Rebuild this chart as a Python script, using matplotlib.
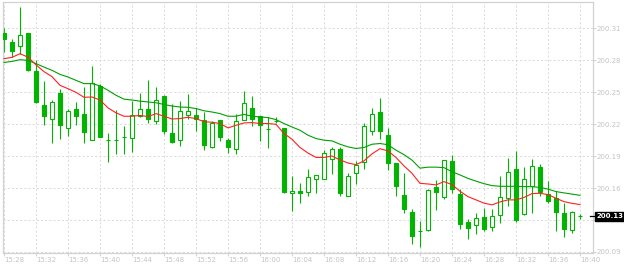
import matplotlib
matplotlib.use("Agg")
import matplotlib.pyplot as plt
from matplotlib.transforms import blended_transform_factory

# one candle per minute, 15:28 .. 16:40
opens = [200.3096, 200.3007, 200.2975, 200.3096, 200.2722, 200.2394, 200.2256, 200.2512, 200.2161, 200.2355,
         200.2305, 200.2049, 200.2581, 200.2049, 200.2049, 200.2079, 200.2069, 200.2279, 200.2355, 200.2233,
         200.2476, 200.2109, 200.2040, 200.2296, 200.2296, 200.2239, 200.1971, 200.2239, 200.2049, 200.1957,
         200.2246, 200.2364, 200.2279, 200.2158, 200.2230, 200.2161, 200.1518, 200.1540, 200.1534, 200.1656,
         200.1662, 200.1858, 200.1954, 200.1494, 200.1715, 200.1823, 200.2134, 200.2318, 200.2099, 200.1819,
         200.1501, 200.1334, 200.1147, 200.1154, 200.1580, 200.1484, 200.1836, 200.1511, 200.1235, 200.1203,
         200.1285, 200.1183, 200.1301, 200.1469, 200.1754, 200.1314, 200.1590, 200.1774, 200.1508, 200.1475,
         200.1324, 200.1157, 200.1291]
highs = [200.3145, 200.3037, 200.3355, 200.3098, 200.2830, 200.2623, 200.2436, 200.2551, 200.2355, 200.2424,
         200.2571, 200.2778, 200.2594, 200.2111, 200.2338, 200.2183, 200.2426, 200.2512, 200.2633, 200.2564,
         200.2486, 200.2397, 200.2426, 200.2498, 200.2360, 200.2318, 200.2236, 200.2242, 200.2069, 200.2305,
         200.2525, 200.2476, 200.2282, 200.2272, 200.2269, 200.2164, 200.1691, 200.1619, 200.1760, 200.1695,
         200.1944, 200.1974, 200.1974, 200.1718, 200.1833, 200.2213, 200.2358, 200.2459, 200.2161, 200.1822,
         200.1715, 200.1363, 200.1242, 200.1560, 200.1649, 200.1852, 200.1895, 200.1560, 200.1262, 200.1321,
         200.1370, 200.1363, 200.1688, 200.1868, 200.1934, 200.1774, 200.1855, 200.1806, 200.1636, 200.1543,
         200.1425, 200.1341, 200.1317]
lows = [200.2912, 200.2862, 200.2896, 200.2722, 200.2410, 200.2190, 200.2016, 200.2055, 200.2085, 200.2193,
        200.2016, 200.2043, 200.2072, 200.1829, 200.1905, 200.1905, 200.1927, 200.2272, 200.2213, 200.2200,
        200.2102, 200.2016, 200.1986, 200.2252, 200.2131, 200.1944, 200.1968, 200.2036, 200.1917, 200.1905,
        200.2239, 200.2183, 200.2036, 200.1967, 200.2210, 200.1521, 200.1346, 200.1422, 200.1488, 200.1521,
        200.1659, 200.1711, 200.1488, 200.1491, 200.1612, 200.1757, 200.2092, 200.2055, 200.1747, 200.1494,
        200.1327, 200.1022, 200.0986, 200.1151, 200.1353, 200.1462, 200.1518, 200.1166, 200.1065, 200.1114,
        200.1150, 200.1150, 200.1223, 200.1393, 200.1238, 200.1301, 200.1321, 200.1491, 200.1419, 200.1150,
        200.1091, 200.1124, 200.1268]
closes = [200.3040, 200.2922, 200.3083, 200.2732, 200.2420, 200.2282, 200.2424, 200.2193, 200.2335, 200.2282,
          200.2124, 200.2610, 200.2075, 200.2049, 200.2049, 200.2079, 200.2289, 200.2351, 200.2256, 200.2443,
          200.2134, 200.2026, 200.2328, 200.2328, 200.2256, 200.1996, 200.2213, 200.2075, 200.1977, 200.2236,
          200.2414, 200.2252, 200.2197, 200.2158, 200.2230, 200.1534, 200.1538, 200.1524, 200.1678, 200.1695,
          200.1915, 200.1954, 200.1521, 200.1685, 200.1796, 200.2180, 200.2298, 200.2134, 200.1813, 200.1593,
          200.1366, 200.1100, 200.1147, 200.1547, 200.1534, 200.1849, 200.1563, 200.1213, 200.1179, 200.1272,
          200.1169, 200.1291, 200.1478, 200.1734, 200.1258, 200.1656, 200.1784, 200.1528, 200.1445, 200.1337,
          200.1164, 200.1338, 200.1291]

# moving averages as drawn (red = fast, green = slow)
ma_fast = [200.2847, 200.2860, 200.2896, 200.2862, 200.2786, 200.2719, 200.2670, 200.2584, 200.2551, 200.2515,
           200.2466, 200.2469, 200.2439, 200.2362, 200.2313, 200.2279, 200.2279, 200.2287, 200.2276, 200.2305,
           200.2279, 200.2252, 200.2256, 200.2269, 200.2256, 200.2225, 200.2220, 200.2207, 200.2164, 200.2190,
           200.2213, 200.2217, 200.2207, 200.2207, 200.2200, 200.2109, 200.2052, 200.1971, 200.1916, 200.1873,
           200.1873, 200.1887, 200.1848, 200.1818, 200.1801, 200.1839, 200.1908, 200.1959, 200.1937, 200.1872,
           200.1789, 200.1716, 200.1617, 200.1611, 200.1602, 200.1634, 200.1605, 200.1539, 200.1486, 200.1454,
           200.1422, 200.1405, 200.1434, 200.1454, 200.1454, 200.1478, 200.1516, 200.1519, 200.1506, 200.1470,
           200.1437, 200.1420, 200.1408]
ma_slow = [200.2810, 200.2820, 200.2837, 200.2830, 200.2798, 200.2764, 200.2732, 200.2692, 200.2666, 200.2633,
           200.2601, 200.2601, 200.2579, 200.2535, 200.2486, 200.2448, 200.2439, 200.2428, 200.2420, 200.2412,
           200.2395, 200.2380, 200.2370, 200.2367, 200.2355, 200.2333, 200.2321, 200.2305, 200.2279, 200.2279,
           200.2298, 200.2279, 200.2272, 200.2266, 200.2246, 200.2207, 200.2173, 200.2141, 200.2092, 200.2059,
           200.2043, 200.2036, 200.2003, 200.1977, 200.1961, 200.1971, 200.2003, 200.2010, 200.1998, 200.1944,
           200.1900, 200.1846, 200.1767, 200.1777, 200.1777, 200.1772, 200.1732, 200.1700, 200.1666, 200.1639,
           200.1614, 200.1595, 200.1588, 200.1588, 200.1588, 200.1585, 200.1585, 200.1577, 200.1560, 200.1536,
           200.1523, 200.1511, 200.1499]

x_labels = ["15:28", "15:32", "15:36", "15:40", "15:44", "15:48", "15:52", "15:56", "16:00", "16:04",
            "16:08", "16:12", "16:16", "16:20", "16:24", "16:28", "16:32", "16:36", "16:40"]
y_ticks = [200.094, 200.1255, 200.157, 200.1885, 200.220, 200.2515, 200.283, 200.3145]
y_labels = ["200.09", "", "200.16", "200.19", "200.22", "200.25", "200.28", "200.31"]

CANDLE = "#00b400"
GRID = "#dcdcdc"
FRAME = "#d2d2d2"
LABEL = "#c4c4c4"
FS = 5.0

W, H = 624, 266
fig = plt.figure(figsize=(W / 100, H / 100), dpi=100)
ax = fig.add_axes([2.5 / W, (H - 252.5) / H, 590 / W, 251 / H])

n = len(opens)
xs = list(range(n))

# wicks
ax.vlines(xs, lows, highs, color=CANDLE, linewidth=0.8, zorder=2)

# bodies: filled = down, hollow = up
bottoms = [min(o, c) for o, c in zip(opens, closes)]
heights = [abs(c - o) for o, c in zip(opens, closes)]
faces = [CANDLE if c < o else "white" for o, c in zip(opens, closes)]
ax.bar(xs, heights, bottom=bottoms, width=0.48, color=faces,
       edgecolor=CANDLE, linewidth=0.8, zorder=3)

# moving averages
ax.plot(xs, ma_slow, color="#00a000", linewidth=0.8, zorder=4)
ax.plot(xs, ma_fast, color="#ff2020", linewidth=0.8, zorder=4)

ax.set_xlim(-0.1875, 73.5625)
ax.set_ylim(200.0935, 200.3411)

ax.set_xticks(xs[::4])
ax.set_xticklabels(x_labels)
for lbl in ax.get_xticklabels():
    lbl.set_horizontalalignment("left")
ax.set_yticks(y_ticks)
ax.set_yticklabels(y_labels)
ax.yaxis.tick_right()

ax.tick_params(axis="both", colors=FRAME, labelcolor=LABEL, labelsize=FS,
               length=2.4, width=0.75, direction="out")
ax.tick_params(axis="x", pad=1.2)
ax.tick_params(axis="y", pad=0.6)

ax.grid(True, color=GRID, linestyle=(0, (2, 2)), linewidth=0.75, zorder=0)
ax.set_axisbelow(True)
for sp in ax.spines.values():
    sp.set_color(FRAME)
    sp.set_linewidth(0.9)

# current price marker on the right axis
last_price = closes[-1]
trans = blended_transform_factory(ax.transAxes, ax.transData)
ax.plot([1 - 2.5 / 590, 1 + 2.5 / 590], [last_price, last_price], color="black",
        linewidth=0.9, transform=trans, clip_on=False, zorder=6)
ax.text(1 + 3.8 / 590, last_price, f"{last_price:.2f}", transform=trans,
        color="white", fontsize=FS, fontweight="bold", va="center", ha="left",
        bbox=dict(boxstyle="square,pad=0.2", facecolor="black", edgecolor="black"),
        zorder=7, clip_on=False)

fig.savefig("out.png", dpi=100, facecolor="white")
